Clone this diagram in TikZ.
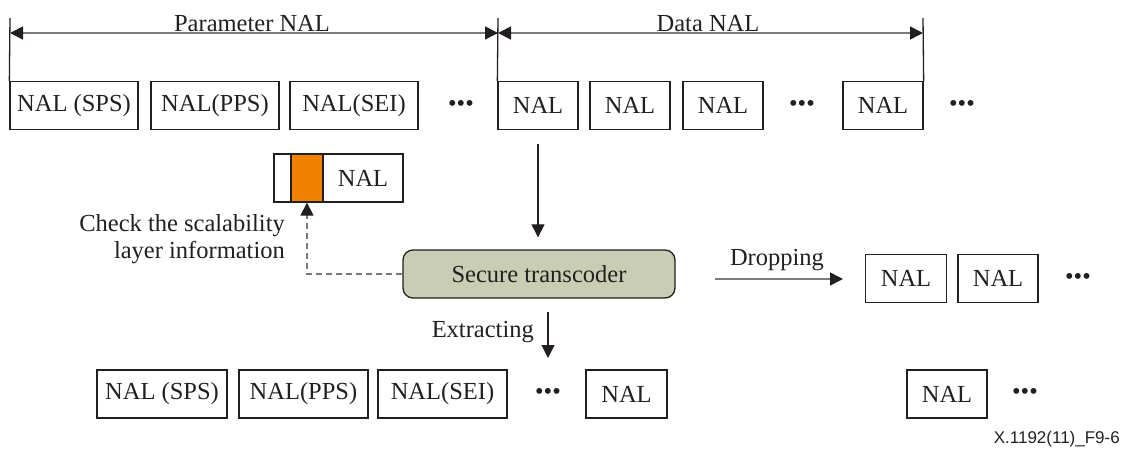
\documentclass[tikz,border=0pt]{standalone}
\usepackage{fontspec}
\setmainfont{Liberation Serif}
\setsansfont{Liberation Sans}
\usetikzlibrary{arrows.meta}
\definecolor{inkc}{HTML}{231F20}
\definecolor{linegray}{HTML}{7A7A7A}
\definecolor{tcfill}{HTML}{C9CDB3}
\definecolor{hdrorange}{HTML}{F08200}
\tikzset{
  nal/.style={draw=inkc, line width=1.3pt, minimum height=48pt, inner sep=0pt,
    font=\fontsize{24.5}{28}\selectfont, text=inkc},
  dotsnode/.style={inner sep=0pt, font=\fontsize{24.5}{28}\selectfont, text=inkc},
  lbl/.style={inner sep=0pt, font=\fontsize{24.5}{28}\selectfont, text=inkc},
  dim/.style={linegray, line width=1.6pt, {Triangle[length=13pt,width=13pt,color=inkc]}-{Triangle[length=13pt,width=13pt,color=inkc]}},
  tick/.style={inkc, line width=1.3pt},
  flow/.style={inkc, line width=1.1pt, -{Triangle[length=13pt,width=13pt]}},
  grayflow/.style={linegray, line width=1.6pt, -{Triangle[length=13pt,width=13pt,color=inkc]}},
  dashflow/.style={linegray, line width=1.3pt, dash pattern=on 6pt off 4pt, -{Triangle[length=13pt,width=13pt,color=inkc]}},
}
\begin{document}
\begin{tikzpicture}[x=1pt, y=-1pt]
\useasboundingbox (0,0) rectangle (1126,460);

% ---- input stream ----
\node[nal, minimum width=128pt] (ps1) at (74,105.5) {NAL (SPS)};
\node[nal, minimum width=128pt] (pp1) at (215,105.5) {NAL(PPS)};
\node[nal, minimum width=128pt] (se1) at (354,105.5) {NAL(SEI)};
\node[dotsnode] (dt1) at (461,105.5) {•••};
\node[nal, minimum width=80pt] (d1) at (538,105.5) {NAL};
\node[nal, minimum width=80pt] (d2) at (630,105.5) {NAL};
\node[nal, minimum width=80pt] (d3) at (723,105.5) {NAL};
\node[dotsnode] (dt2) at (802,105.5) {•••};
\node[nal, minimum width=80pt] (d4) at (883,105.5) {NAL};
\node[dotsnode] (dt3) at (962,105.5) {•••};

% ---- extent markers ----
\coordinate (tkA) at (10,18);
\coordinate (tkB) at (498,18);
\coordinate (tkC) at (923,18);
\draw[tick] (tkA) -- (ps1.north west);
\draw[tick] (tkB) -- (d1.north west);
\draw[tick] (tkC) -- (d4.north east);
\coordinate (dmA) at (10,33);
\coordinate (dmB) at (498,33);
\coordinate (dmC) at (923,33);
\draw[dim] (dmA) -- (dmB);
\draw[dim] (dmB) -- (dmC);
\node[lbl, anchor=base] (pname) at (252,32) {Parameter NAL};
\node[lbl, anchor=base] (dname) at (708,32) {Data NAL};

% ---- NAL header being inspected ----
\node[nal, minimum width=129pt] (hdr) at (338.5,178) {};
\node[lbl] (hdrtxt) at (363,178) {NAL};
\node[draw=inkc, fill=hdrorange, line width=1.3pt, minimum width=32pt, minimum height=48pt, inner sep=0pt] (hdrbit) at (307,178) {};

% ---- transcoder ----
\node[draw=inkc, fill=tcfill, line width=1.3pt, rounded corners=10pt,
      minimum width=272pt, minimum height=48pt, inner sep=0pt, font=\fontsize{24.5}{28}\selectfont, text=inkc]
      (tc) at (539,274) {Secure transcoder};

\coordinate (tcout) at ([yshift=-14pt]d1.south);
\coordinate (tcin) at ([yshift=12pt]tc.north);
\draw[flow] (tcout) -- (tcout |- tcin);

\coordinate (chk) at (hdrbit.south |- tc.west);
\draw[dashflow] (tc.west) -- (chk) -- (hdrbit.south);
\node[lbl, anchor=base east] (chk1) at (285,231) {Check the scalability};
\node[lbl, anchor=base east] (chk2) at (285,258) {layer information};

% ---- dropping branch ----
\coordinate (drA) at (715,279);
\coordinate (drB) at (843,279);
\draw[grayflow] (drA) -- (drB);
\node[lbl, anchor=base] (drl) at (777,265) {Dropping};
\node[nal, minimum width=81pt] (r1) at (906,278.5) {NAL};
\node[nal, minimum width=80pt] (r2) at (998,278.5) {NAL};
\node[dotsnode] (dt4) at (1078,278.5) {•••};

% ---- extracting branch ----
\coordinate (exA) at (548,312);
\coordinate (exB) at (548,358);
\draw[flow] (exA) -- (exB);
\node[lbl, anchor=base east] (exl) at (534,337) {Extracting};

% ---- output stream ----
\node[nal, minimum width=130pt] (ps2) at (162,394) {NAL (SPS)};
\node[nal, minimum width=129pt] (pp2) at (303.5,394) {NAL(PPS)};
\node[nal, minimum width=129pt] (se2) at (442.5,394) {NAL(SEI)};
\node[dotsnode] (dt5) at (548,394) {•••};
\node[nal, minimum width=81pt] (o1) at (626.5,394) {NAL};
\node[nal, minimum width=80pt] (o2) at (947,394) {NAL};
\node[dotsnode] (dt6) at (1025,394) {•••};

\node[inner sep=0pt, anchor=base east, font=\sffamily\fontsize{17}{20}\selectfont, text=inkc] (fig) at (1120,443) {X.1192(11)\_F9-6};
\end{tikzpicture}
\end{document}
